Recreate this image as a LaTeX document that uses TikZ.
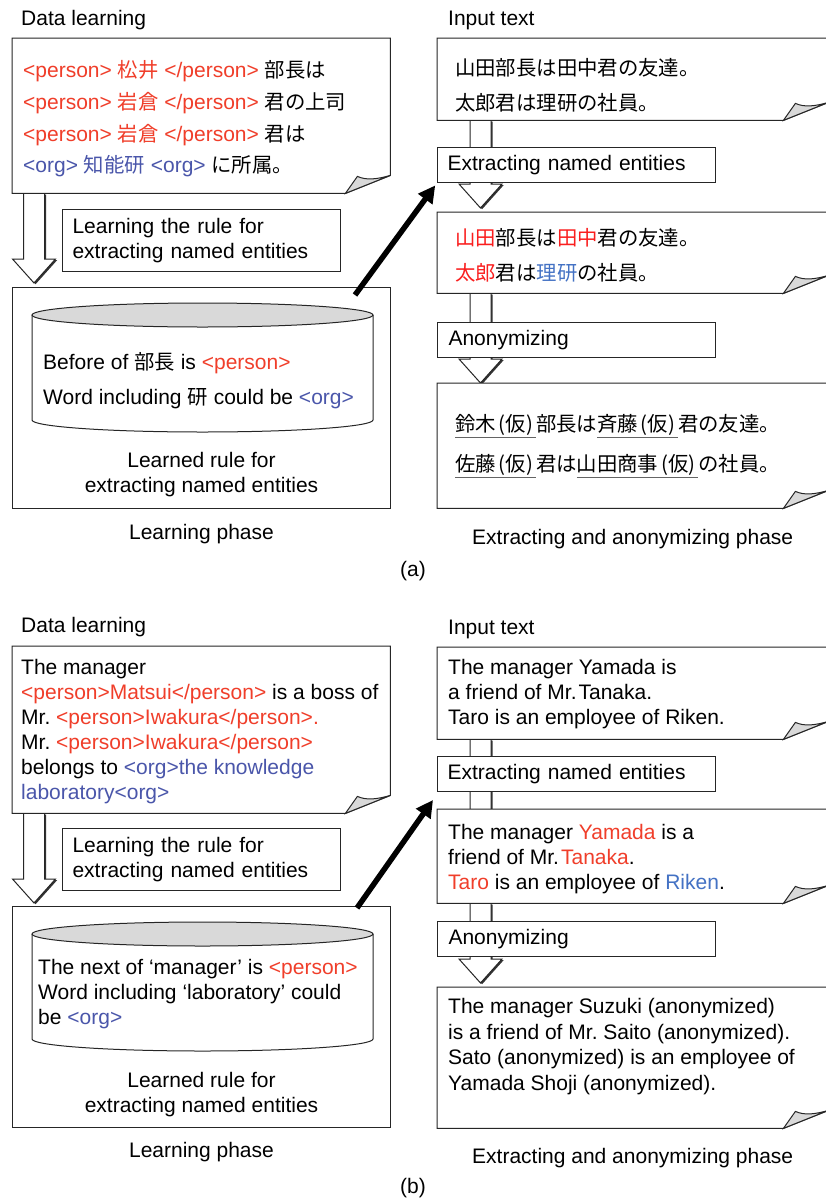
\documentclass[tikz,border=0pt]{standalone}
\usepackage{fontspec}
\setmainfont{Liberation Sans}
\newfontfamily\jp{Noto Sans CJK JP}[Scale=0.97]
\usetikzlibrary{arrows.meta,calc,positioning,backgrounds,shadows}

\definecolor{tagred}{RGB}{240,62,42}
\definecolor{tagblue}{RGB}{74,86,170}
\definecolor{hitred}{RGB}{250,30,30}
\definecolor{hitblue}{RGB}{68,114,196}
\definecolor{curlgray}{RGB}{217,217,217}
\definecolor{ulgray}{RGB}{100,100,100}

\tikzstyle{line} = [draw=black!85, line width=1pt]
\tikzstyle{docarea} = [rectangle, anchor=north west, inner sep=0pt]
\tikzstyle{rulebox} = [rectangle, line, anchor=north west, inner sep=0pt,
    minimum width=378pt, minimum height=221pt]
\tikzstyle{procbox} = [rectangle, line, fill=white, anchor=north west,
    text width=258pt, inner xsep=10pt, inner ysep=0pt, minimum height=35pt,
    align=left, font=\fontsize{21}{25}\selectfont]
\tikzstyle{txt} = [inner sep=0pt, font=\fontsize{21}{25}\selectfont]
\tikzstyle{textblock} = [txt, anchor=north west, align=left]
\tikzstyle{bigarrow} = [draw, line width=5.5pt, -{Triangle[length=17pt,width=17pt]}]
\tikzstyle{hollow} = [line, fill=white,
    drop shadow={shadow xshift=1.6pt, shadow yshift=-1.2pt, fill=black!80, opacity=1}]

\newcommand{\firstline}{\rule{0pt}{18pt}}
\newcommand{\kari}{\kern3pt(仮)\kern3pt}
\newcommand{\anon}[1]{\setbox0\hbox{#1}\rlap{\color{ulgray}\rule[-7pt]{\wd0}{0.8pt}}\box0}

% sheet outline with a curled corner
\newcommand{\docframe}[1]{%
  \path[line, fill=white] (#1.north west) -- (#1.north east)
    -- ($(#1.south east)+(0,-18)$) -- ($(#1.south east)+(-45,0)$)
    -- (#1.south west) -- cycle;
  \path[line, fill=curlgray] ($(#1.south east)+(-45,0)$) -- ($(#1.south east)+(-33,-17)$)
    .. controls ($(#1.south east)+(-24,-13)$) and ($(#1.south east)+(-14,-14)$)
    .. ($(#1.south east)+(0,-18)$) -- cycle;
}
% block arrow: from, to, x offset, tip shift
\newcommand{\blockarrow}[4]{%
  \path[hollow] let \p1=($(#1.south west)+(#3,0)$), \p2=($(#2.north west)+(#3,#4)$) in
    (\x1-10.5pt,\y1) -- (\x1+10.5pt,\y1) -- (\x1+10.5pt,\y2+24pt)
    -- (\x1+21.5pt,\y2+24pt) -- (\x1,\y2) -- (\x1-21.5pt,\y2+24pt)
    -- (\x1-10.5pt,\y2+24pt) -- cycle;
}
% database drum inside a rule box
\newcommand{\drum}[1]{%
  \draw[line] ($(#1.north west)+(20,28)$) -- ($(#1.north west)+(20,133)$)
    arc[start angle=180, end angle=360, x radius=170.5pt, y radius=12pt]
    -- ($(#1.north west)+(361,28)$);
  \filldraw[line, fill=curlgray] ($(#1.north west)+(190.5,28)$)
    ellipse [x radius=170.5pt, y radius=12pt];
}

\frenchspacing

\begin{document}
\begin{tikzpicture}[x=1pt, y=-1pt]
\useasboundingbox (0,0) rectangle (826,1200);

    % (a) learning phase
\node[txt, anchor=base west] (headA) at (21,25.5) {Data learning};
\node[docarea, minimum width=378pt, minimum height=155pt] (dataA) at (12,38) {};
\node[textblock, font=\fontsize{21}{31.7}\selectfont] (dataAtext) at (23,59.5)
{\firstline{\color{tagred}<person> {\jp 松井} </person>} {\jp 部長は}\\
{\color{tagred}<person> {\jp 岩倉} </person>} {\jp 君の上司}\\
{\color{tagred}<person> {\jp 岩倉} </person>} {\jp 君は}\\
{\color{tagblue}<org> {\jp 知能研} <org>} {\jp に所属。}};
\node[procbox, minimum height=62pt] (learnA) at (62,209)
{Learning the rule for\\extracting named entities};
\node[rulebox] (ruleA) at (12,287) {};
\drum{ruleA}
\node[textblock, font=\fontsize{21}{35}\selectfont] (ruleAtext) at ($(ruleA.north west)+(31,64)$)
{\firstline Before of {\jp 部長} is {\color{tagred}<person>}\\
Word including {\jp 研} could be {\color{tagblue}<org>}};
\node[textblock, anchor=north, align=center] (ruleAname) at ($(ruleA.north)+(0,162)$)
{\firstline Learned rule for\\extracting named entities};
\node[txt, below=15pt of ruleA] (phaseA1) {Learning phase};

    % (a) extracting and anonymizing phase
\node[txt, anchor=base west] (headA2) at (448,25.5) {Input text};
\node[docarea, minimum width=391pt, minimum height=82pt] (inA) at (437,38) {};
\node[textblock, font=\jp\fontsize{21}{35}\selectfont] (inAtext) at (455,57)
{\firstline 山田部長は田中君の友達。\\太郎君は理研の社員。};
\node[procbox] (extA) at (437,147) {Extracting named entities};
\node[docarea, minimum width=391pt, minimum height=81pt] (tagA) at (437,212) {};
\node[textblock, font=\jp\fontsize{21}{35}\selectfont] (tagAtext) at (455,227)
{\firstline{\color{hitred}山田}部長は{\color{hitred}田中}君の友達。\\
{\color{hitred}太郎}君は{\color{hitblue}理研}の社員。};
\node[procbox, inner xsep=11pt, text width=256pt] (anonA) at (437,322) {Anonymizing};
\node[docarea, minimum width=391pt, minimum height=125pt] (outA) at (437,383) {};
\node[textblock, font=\jp\fontsize{21}{40}\selectfont] (outAtext) at (455,413)
{\firstline\anon{鈴木\kari}部長は\anon{斉藤\kari}君の友達。\\
\anon{佐藤\kari}君は\anon{山田商事\kari}の社員。};
\node[txt, below=21pt of outA] (phaseA2) {Extracting and anonymizing phase};
\node[txt, anchor=base] (capA) at (413,576) {(a)};

\draw[bigarrow, shorten >=3pt] ($(ruleA.north east)+(-36,8)$) -- (extA.south west);

    % (b) learning phase
\node[txt, anchor=base west] (headB) at (21,632.5) {Data learning};
\node[docarea, minimum width=378pt, minimum height=167pt] (dataB) at (12,646) {};
\node[textblock] (dataBtext) at (21,656.5)
{\firstline The manager\\
{\color{tagred}<person>Matsui</person>} is a boss of\\
Mr. {\color{tagred}<person>Iwakura</person>.}\\
Mr. {\color{tagred}<person>Iwakura</person>}\\
belongs to {\color{tagblue}<org>the knowledge}\\
{\color{tagblue}laboratory<org>}};
\node[procbox, minimum height=62pt] (learnB) at (62,828)
{Learning the rule for\\extracting named entities};
\node[rulebox] (ruleB) at (12,906) {};
\drum{ruleB}
\node[textblock] (ruleBtext) at ($(ruleB.north west)+(26,50)$)
{\firstline The next of `manager' is {\color{tagred}<person>}\\
Word including `laboratory' could\\
be {\color{tagblue}<org>}};
\node[textblock, anchor=north, align=center] (ruleBname) at ($(ruleB.north)+(0,163)$)
{\firstline Learned rule for\\extracting named entities};
\node[txt, below=14pt of ruleB] (phaseB1) {Learning phase};

    % (b) extracting and anonymizing phase
\node[txt, anchor=base west] (headB2) at (448,634.5) {Input text};
\node[docarea, minimum width=391pt, minimum height=92pt] (inB) at (437,647) {};
\node[textblock] (inBtext) at (448,656.5)
{\firstline The manager Yamada is\\a friend of Mr.\kern2pt Tanaka.\\Taro is an employee of Riken.};
\node[procbox] (extB) at (437,756) {Extracting named entities};
\node[docarea, minimum width=391pt, minimum height=94pt] (tagB) at (437,809) {};
\node[textblock] (tagBtext) at (448,821.5)
{\firstline The manager {\color{tagred}Yamada} is a\\
friend of Mr.\kern2pt{\color{tagred}Tanaka}.\\
{\color{tagred}Taro} is an employee of {\color{hitblue}Riken}.};
\node[procbox, inner xsep=11pt, text width=256pt] (anonB) at (437,921) {Anonymizing};
\node[docarea, minimum width=391pt, minimum height=141pt] (outB) at (437,987) {};
\node[textblock, font=\fontsize{21}{25.6}\selectfont] (outBtext) at (448,995.5)
{\firstline The manager Suzuki (anonymized)\\
is a friend of Mr. Saito (anonymized).\\
Sato (anonymized) is an employee of\\
Yamada Shoji (anonymized).};
\node[txt, below=20pt of outB] (phaseB2) {Extracting and anonymizing phase};
\node[txt, anchor=base] (capB) at (413,1193) {(b)};

\draw[bigarrow] ($(ruleB.north east)+(-34,2)$) -- ($(extB.south west)+(-4,8)$);

    % Draw sheets and block arrows behind the text
\begin{pgfonlayer}{background}
\blockarrow{dataA}{ruleA}{22}{-4}
\blockarrow{inA}{tagA}{43.5}{-4}
\blockarrow{tagA}{outA}{43.5}{0}
\blockarrow{dataB}{ruleB}{22}{-3}
\blockarrow{inB}{tagB}{43.5}{30}
\blockarrow{tagB}{outB}{43.5}{-4}
\docframe{dataA} \docframe{inA} \docframe{tagA} \docframe{outA}
\docframe{dataB} \docframe{inB} \docframe{tagB} \docframe{outB}
\end{pgfonlayer}

\end{tikzpicture}
\end{document}
